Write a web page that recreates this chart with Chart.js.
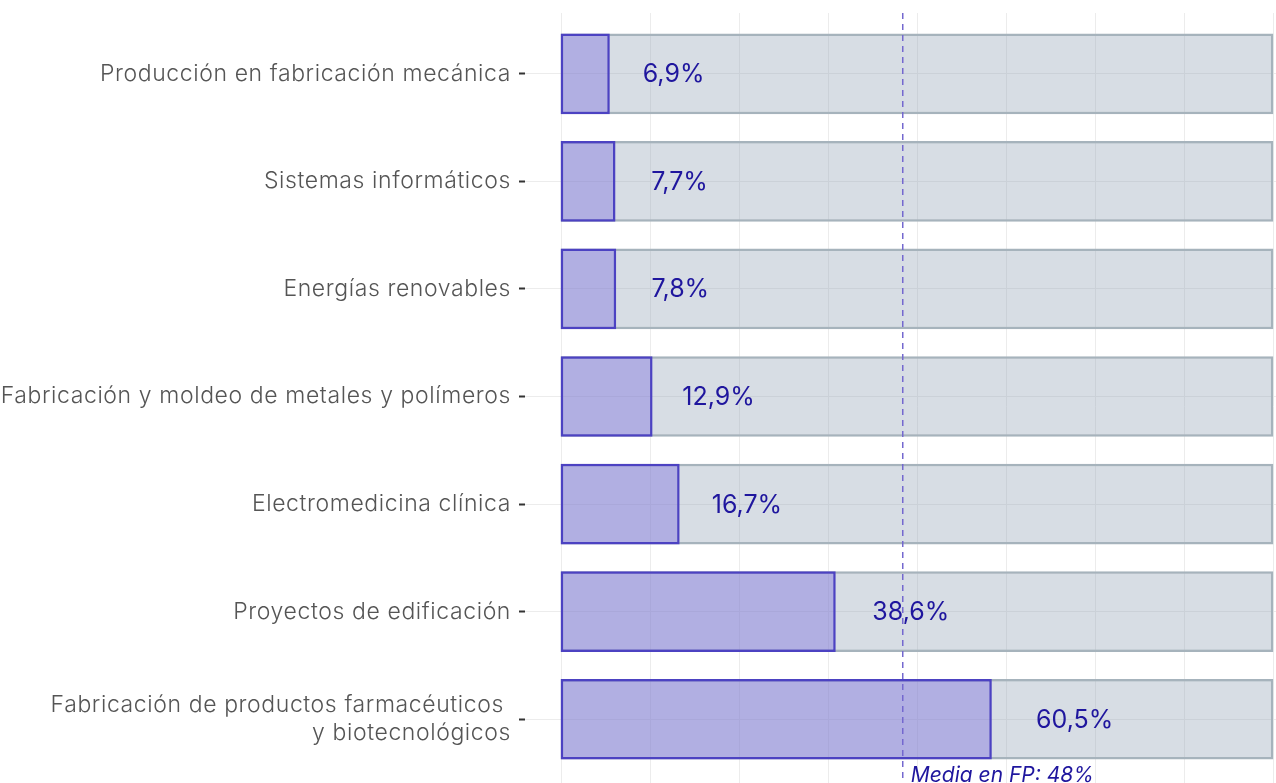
<!DOCTYPE html>
<html>
<head>
<meta charset="utf-8">
<script src="https://cdn.jsdelivr.net/npm/chart.js@4.4.0/dist/chart.umd.min.js"></script>
<style>
  html, body { margin: 0; padding: 0; background: #fff; overflow: hidden; }
  canvas { display: block; }
</style>
</head>
<body>
<canvas id="myChart" width="1320" height="800" style="width:1320px;height:800px"></canvas>
<script>
// datos
var categories = [
    'Producción en fabricación mecánica',
    'Sistemas informáticos',
    'Energías renovables',
    'Fabricación y moldeo de metales y polímeros',
    'Electromedicina clínica',
    'Proyectos de edificación',
    ['Fabricación de productos farmacéuticos ', 'y biotecnológicos']
];
var values = [6.9, 7.7, 7.8, 12.9, 16.7, 38.6, 60.5];
var totals = [100, 100, 100, 100, 100, 100, 100];
var gridValues = [0, 12.5, 25, 37.5, 50, 62.5, 75, 87.5, 100];
var mediaFP = 48;
var mediaLabel = 'Media en FP: 48%';

var fontFamily = 'Inter, "Noto Sans", sans-serif';
var blue = '#1f169e';

// rejilla vertical + linea de la media + etiquetas
var extras = {
    id: 'extras',
    beforeDraw: function(chart) {
        chart.ctx.letterSpacing = '0.6px';
    },
    beforeDatasetsDraw: function(chart) {
        var c = chart.ctx, x = chart.scales.x;
        c.save();
        c.strokeStyle = '#ececec';
        c.lineWidth = 1;
        gridValues.forEach(function(v) {
            var px = Math.round(x.getPixelForValue(v)) + 0.5;
            c.beginPath();
            c.moveTo(px, 13);
            c.lineTo(px, chart.height);
            c.stroke();
        });
        c.restore();
    },
    afterDatasetsDraw: function(chart) {
        var c = chart.ctx, x = chart.scales.x, y = chart.scales.y;
        c.save();
        c.letterSpacing = '0px';
        // linea media
        var mx = x.getPixelForValue(mediaFP);
        c.strokeStyle = '#7468cf';
        c.lineWidth = 1.5;
        c.setLineDash([6, 5]);
        c.beginPath();
        c.moveTo(mx, 13);
        c.lineTo(mx, chart.height);
        c.stroke();
        c.setLineDash([]);
        c.fillStyle = blue;
        c.font = 'italic 21px ' + fontFamily;
        c.textAlign = 'left';
        c.textBaseline = 'alphabetic';
        c.fillText(mediaLabel, mx + 8, chart.chartArea.bottom + 9);
        // etiquetas de valores
        c.font = '25px ' + fontFamily;
        c.textAlign = 'center';
        c.textBaseline = 'middle';
        values.forEach(function(v, i) {
            var lx = x.getPixelForValue(v * 1.05 + 8.6);
            c.fillText(v.toFixed(1).replace('.', ',') + '%', lx, y.getPixelForValue(i) + 1);
        });
        c.restore();
    }
};

var ctx = document.getElementById('myChart').getContext('2d');
var myChart = new Chart(ctx, {
    type: 'bar',
    data: {
        labels: categories,
        datasets: [{
            label: 'Porcentaje',
            data: values,
            backgroundColor: 'rgba(120, 108, 222, 0.4)',
            borderColor: '#4c42c2',
            borderWidth: 2.5,
            borderSkipped: false,
            grouped: false,
            order: 0
        }, {
            label: 'Total',
            data: totals,
            backgroundColor: 'rgba(150, 165, 185, 0.38)',
            borderColor: '#a6b3bc',
            borderWidth: 2.5,
            borderSkipped: false,
            grouped: false,
            order: 1
        }]
    },
    options: {
        indexAxis: 'y',
        responsive: false,
        maintainAspectRatio: false,
        animation: false,
        devicePixelRatio: 1,
        layout: { padding: { top: 20, bottom: 27, right: 11, left: 0 } },
        datasets: { bar: { barPercentage: 0.75, categoryPercentage: 1 } },
        scales: {
            x: {
                display: false,
                min: -5,
                max: 105
            },
            y: {
                afterFit: function(axis) {
                    axis.width = 525;
                    axis.paddingTop = 0;
                    axis.paddingBottom = 0;
                },
                border: { display: false },
                grid: {
                    offset: false,
                    color: '#ececec',
                    tickColor: '#333333',
                    tickLength: 6,
                    tickWidth: 2
                },
                ticks: {
                    color: '#555555',
                    padding: 8,
                    font: { family: fontFamily, size: 23, weight: 300, lineHeight: 1.2 }
                }
            }
        },
        plugins: {
            legend: { display: false },
            tooltip: { enabled: false }
        }
    },
    plugins: [extras]
});
</script>
</body>
</html>
